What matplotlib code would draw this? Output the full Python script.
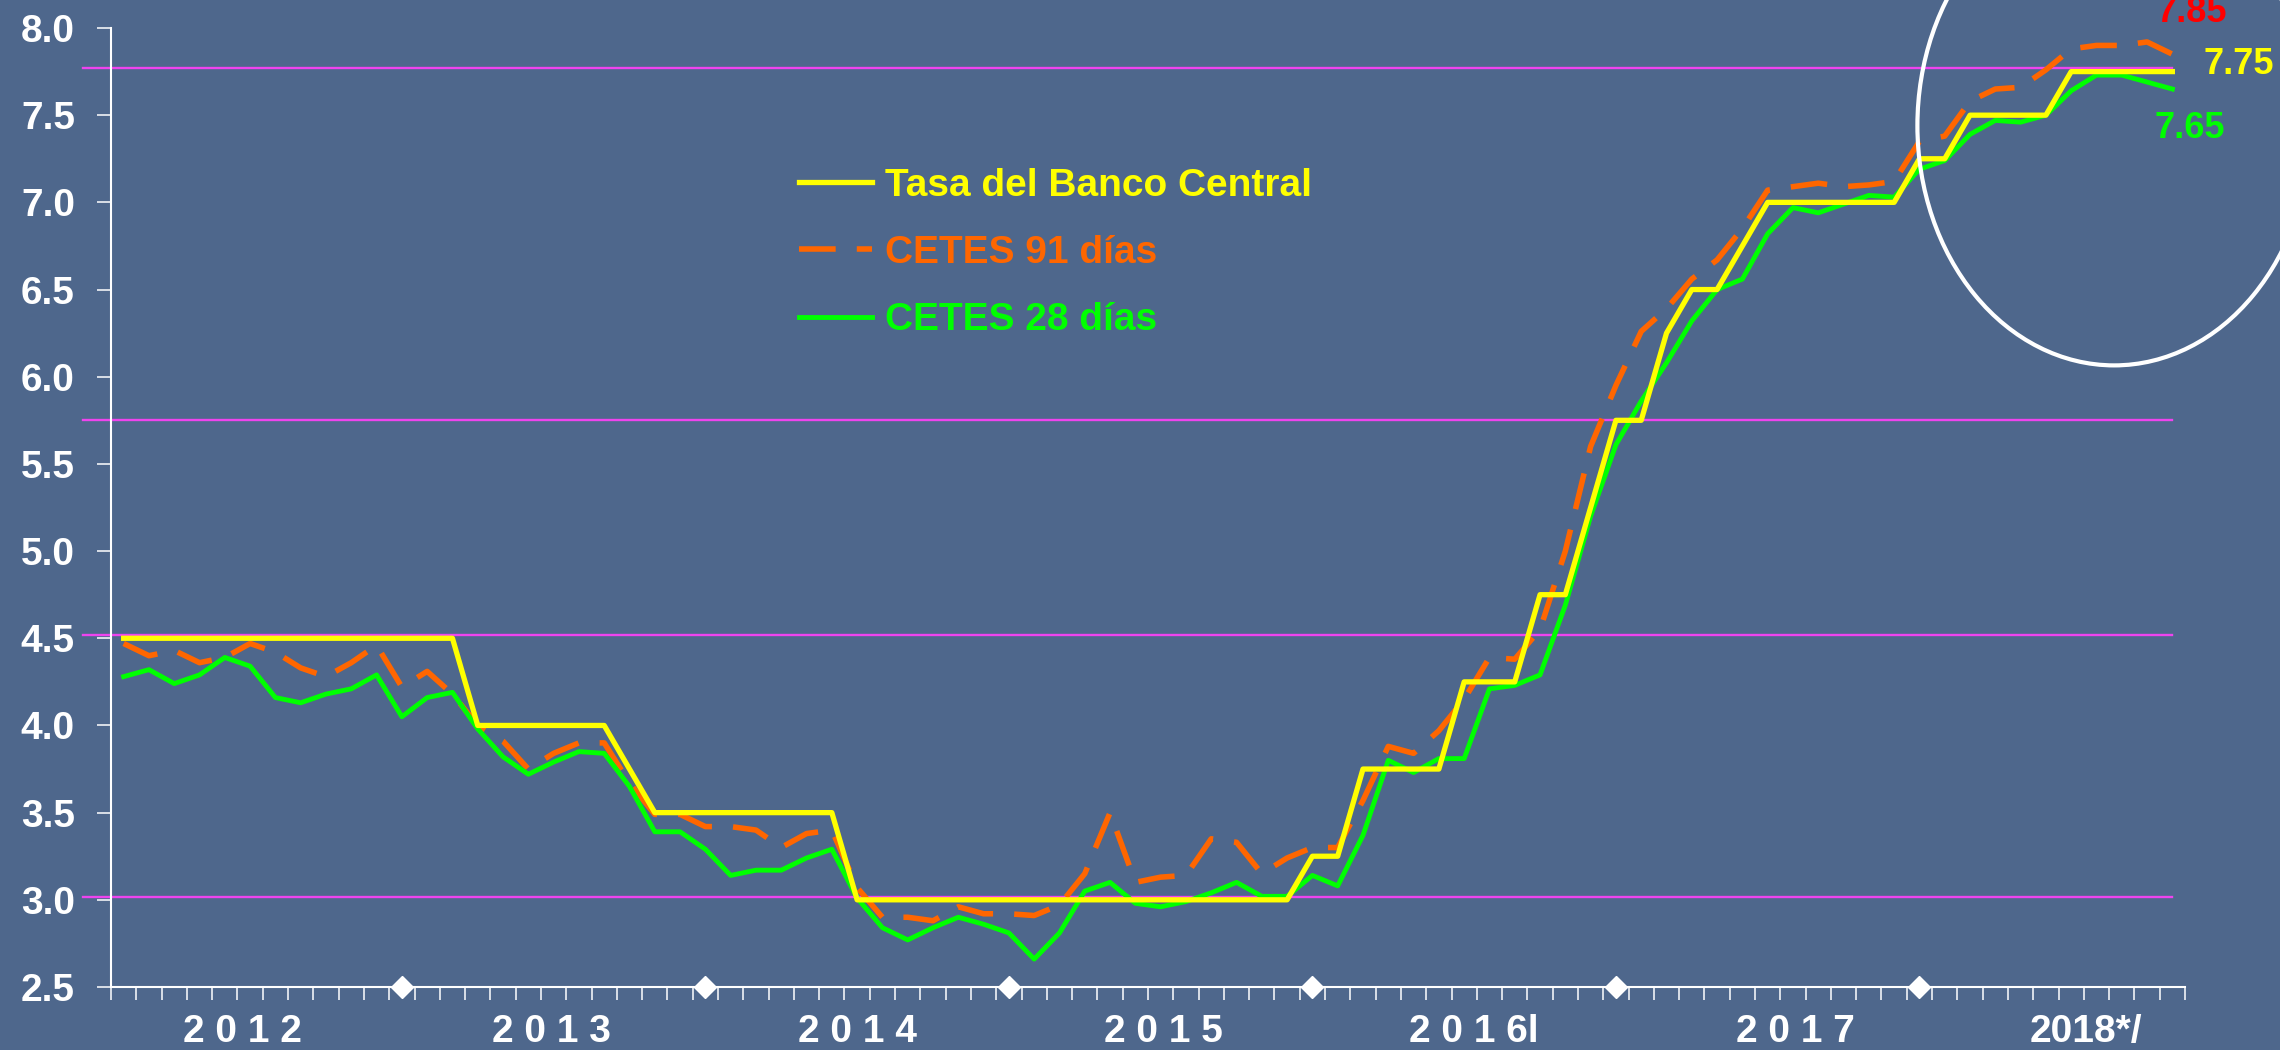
"""Tasa del Banco Central vs CETES 28 y 91 días, 2012-2018 (mensual)."""

import matplotlib.pyplot as plt
from matplotlib.patches import Ellipse

BG = "#4e678c"
YELLOW = "#ffff00"
ORANGE = "#ff6600"
GREEN = "#00ff00"
MAGENTA = "#ee44ee"

# one value per month, Jan 2012 .. Oct 2018
TASA = [
    4.50, 4.50, 4.50, 4.50, 4.50, 4.50, 4.50, 4.50, 4.50, 4.50, 4.50, 4.50,
    4.50, 4.50, 4.00, 4.00, 4.00, 4.00, 4.00, 4.00, 3.75, 3.50, 3.50, 3.50,
    3.50, 3.50, 3.50, 3.50, 3.50, 3.00, 3.00, 3.00, 3.00, 3.00, 3.00, 3.00,
    3.00, 3.00, 3.00, 3.00, 3.00, 3.00, 3.00, 3.00, 3.00, 3.00, 3.00, 3.25,
    3.25, 3.75, 3.75, 3.75, 3.75, 4.25, 4.25, 4.25, 4.75, 4.75, 5.25, 5.75,
    5.75, 6.25, 6.50, 6.50, 6.75, 7.00, 7.00, 7.00, 7.00, 7.00, 7.00, 7.25,
    7.25, 7.50, 7.50, 7.50, 7.50, 7.75, 7.75, 7.75, 7.75, 7.75,
]
CETES91 = [
    4.47, 4.40, 4.43, 4.36, 4.39, 4.47, 4.42, 4.33, 4.28, 4.36, 4.46, 4.22,
    4.31, 4.18, 4.00, 3.91, 3.75, 3.84, 3.90, 3.90, 3.67, 3.49, 3.49, 3.42,
    3.42, 3.40, 3.30, 3.38, 3.40, 3.07, 2.90, 2.90, 2.88, 2.96, 2.92, 2.92,
    2.91, 2.97, 3.15, 3.50, 3.10, 3.13, 3.14, 3.35, 3.33, 3.15, 3.24, 3.30,
    3.30, 3.57, 3.88, 3.84, 3.97, 4.15, 4.39, 4.38, 4.55, 5.00, 5.60, 5.95,
    6.26, 6.39, 6.56, 6.67, 6.85, 7.07, 7.09, 7.11, 7.09, 7.10, 7.12, 7.35,
    7.38, 7.58, 7.65, 7.66, 7.76, 7.88, 7.90, 7.90, 7.92, 7.85,
]
CETES28 = [
    4.28, 4.32, 4.24, 4.29, 4.39, 4.34, 4.16, 4.13, 4.18, 4.21, 4.29, 4.05,
    4.16, 4.19, 3.98, 3.82, 3.72, 3.79, 3.85, 3.84, 3.65, 3.39, 3.39, 3.29,
    3.14, 3.17, 3.17, 3.24, 3.29, 3.01, 2.84, 2.77, 2.84, 2.90, 2.86, 2.81,
    2.66, 2.81, 3.05, 3.10, 2.98, 2.96, 2.99, 3.04, 3.10, 3.02, 3.02, 3.14,
    3.08, 3.37, 3.80, 3.73, 3.81, 3.81, 4.21, 4.23, 4.29, 4.69, 5.20, 5.61,
    5.86, 6.08, 6.32, 6.50, 6.56, 6.82, 6.97, 6.94, 6.99, 7.04, 7.03, 7.19,
    7.24, 7.39, 7.47, 7.46, 7.50, 7.64, 7.73, 7.73, 7.69, 7.65,
]
LABELS = ["Tasa del Banco Central", "CETES 91 días", "CETES 28 días"]

YEAR_LABELS = ["2 0 1 2", "2 0 1 3", "2 0 1 4", "2 0 1 5", "2 0 1 6l", "2 0 1 7", "2018*/"]
YEAR_POS = [4.7, 16.9, 29.0, 41.1, 53.4, 66.1, 77.6]
DEC_MONTHS = [11, 23, 35, 47, 59, 71]     # white diamonds on the axis
REF_LEVELS = [7.77, 5.75, 4.52, 3.015]    # magenta guide lines
Y_TICKS = [2.5, 3.0, 3.5, 4.0, 4.5, 5.0, 5.5, 6.0, 6.5, 7.0, 7.5, 8.0]
END_LABELS = ["7.85", "7.75", "7.65"]

plt.rcParams["font.family"] = ["Liberation Sans", "DejaVu Sans"]
plt.rcParams["font.weight"] = "bold"

months = list(range(len(TASA)))

fig = plt.figure(figsize=(22.8, 10.5), dpi=100, facecolor=BG)
ax = fig.add_axes([111 / 2280, 1 - 987 / 1050, 2074 / 2280, 959 / 1050])
ax.set_facecolor(BG)

for lvl in REF_LEVELS:
    ax.plot([-1.6, 81.0], [lvl, lvl], color=MAGENTA, linewidth=1.7,
            clip_on=False, zorder=1)

ax.plot(months, TASA, color=YELLOW, linewidth=3.8, label=LABELS[0], zorder=4)
ax.plot(months, CETES91, color=ORANGE, linewidth=4.0, label=LABELS[1],
        linestyle=(0, (6.6, 3.8)), zorder=3)
ax.plot(months, CETES28, color=GREEN, linewidth=3.5, label=LABELS[2], zorder=3)

ax.plot(DEC_MONTHS, [2.5] * len(DEC_MONTHS), linestyle="none", marker="D",
        markersize=11, color="white", clip_on=False, zorder=6)

ax.add_patch(Ellipse((78.7, 7.44), 15.56, 2.75, fill=False,
                     edgecolor="white", linewidth=3, clip_on=False, zorder=5))

ax.set_xlim(-0.5, len(TASA) - 0.5)
ax.set_ylim(2.5, 8.0)
ax.set_xticks([m - 0.5 for m in months] + [len(TASA) - 0.5])
ax.set_xticklabels([])
ax.set_yticks(Y_TICKS)
ax.set_yticklabels([f"{v:.1f}" for v in Y_TICKS])
ax.tick_params(axis="x", direction="out", length=9.5, width=1.1, colors="white")
ax.tick_params(axis="y", direction="out", length=10, width=1.1, colors="white",
               pad=16, labelsize=28, labelcolor="white")
for side in ("top", "right"):
    ax.spines[side].set_visible(False)
for side in ("left", "bottom"):
    ax.spines[side].set_color("white")
    ax.spines[side].set_linewidth(1.5)

for lab, x in zip(YEAR_LABELS, YEAR_POS):
    ax.annotate(lab, xy=(x, 0), xycoords=("data", "axes fraction"),
                xytext=(0, -45), textcoords="offset pixels",
                ha="center", va="center", fontsize=28, fontweight="bold",
                color="white")

# end-of-series values, next to the last month
last = months[-1]
for txt, y, off, col in zip(
    END_LABELS, (CETES91[-1], TASA[-1], CETES28[-1]),
    ((-16, 42), (31, 7), (-18, -39)), ("#ff0000", YELLOW, GREEN),
):
    ax.annotate(txt, xy=(last, y), xytext=off, textcoords="offset pixels",
                ha="left", va="center", fontsize=26, fontweight="bold",
                color=col, annotation_clip=False)

leg = ax.legend(
    loc="upper left", bbox_to_anchor=(799 / 2280, 1 - 168 / 1050),
    bbox_transform=fig.transFigure, frameon=False, fontsize=28,
    handlelength=1.87, handletextpad=0.33, labelspacing=0.8,
    borderpad=0, borderaxespad=0, labelcolor="linecolor",
)
for t in leg.get_texts():
    t.set_fontweight("bold")

fig.savefig("out.png", dpi=100, facecolor=BG)
